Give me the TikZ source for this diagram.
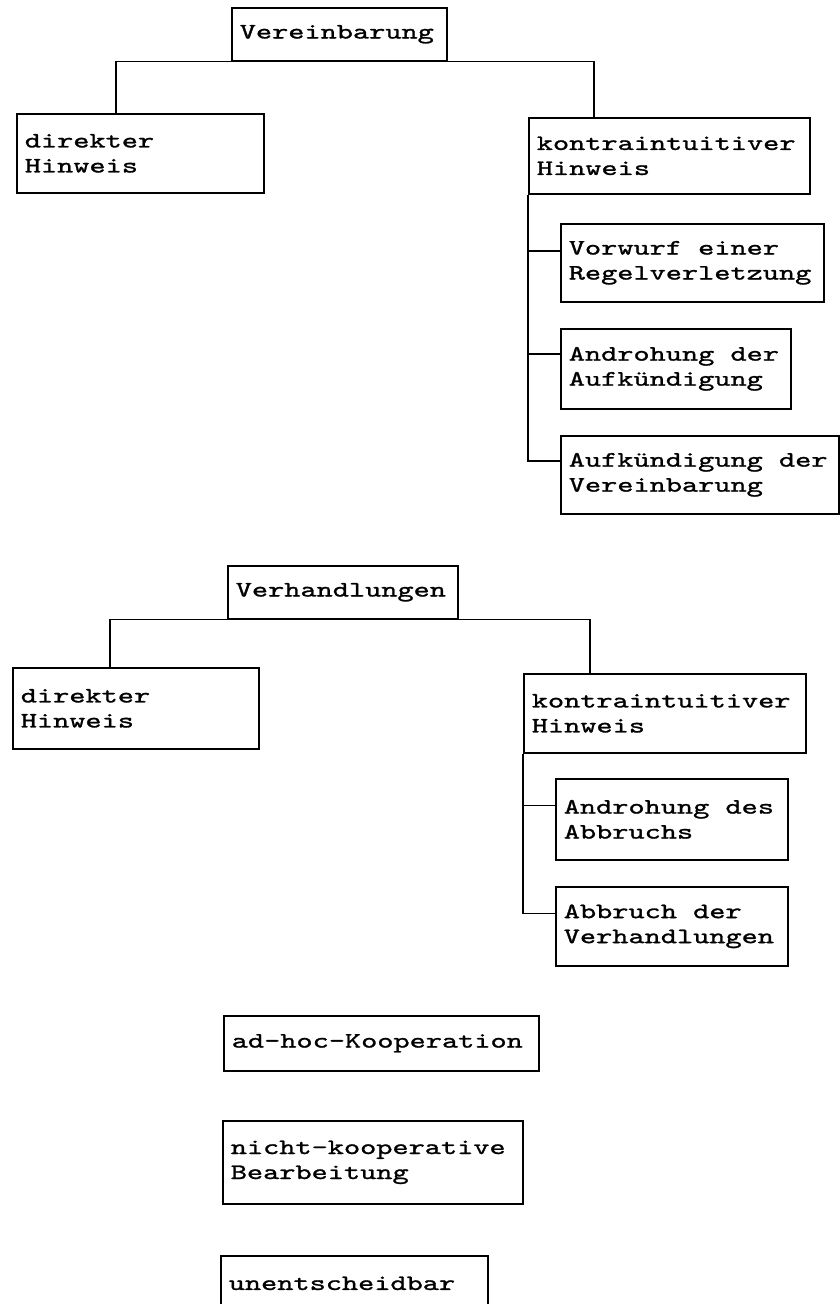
\documentclass[tikz,border=0pt]{standalone}
\usepackage{fontspec}
\newfontfamily\cour[FakeStretch=1.40,FakeBold=1.2]{lmmono10-regular.otf}
\newcommand\boxfont{\cour\fontsize{22}{25}\selectfont}
\tikzset{
  box/.style={draw, line width=1.6pt, anchor=north west, inner xsep=8pt, inner ysep=0pt,
    align=left, font=\boxfont, execute at begin node={\spaceskip=16.17pt\relax\xspaceskip=16.17pt\relax}},
  conn/.style={line width=1.6pt}
}
\begin{document}
\begin{tikzpicture}[x=1pt,y=-1pt]
\useasboundingbox (0,0) rectangle (840,1304);
% tree 1
\node[box, minimum width=215pt, minimum height=53pt, text width=199pt] (ver) at (231,7) {Vereinbarung};
\node[box, minimum width=247pt, minimum height=79pt, text width=231pt] (d1) at (16,113) {direkter\\Hinweis};
\node[box, minimum width=281pt, minimum height=76pt, text width=265pt] (k1) at (528,117) {kontraintuitiver\\Hinweis};
\node[box, minimum width=263pt, minimum height=78pt, text width=247pt] (v1) at (560,223) {Vorwurf einer\\Regelverletzung};
\node[box, minimum width=230pt, minimum height=80pt, text width=214pt] (a1) at (560,328) {Androhung der\\Aufkündigung};
\node[box, minimum width=278pt, minimum height=78pt, text width=262pt] (f1) at (560,435) {Aufkündigung der\\Vereinbarung};
\draw[conn] ([xshift=100pt]d1.north west) |- (ver.south west);
\draw[conn] ([xshift=66pt]k1.north west) |- (ver.south east);
\draw[conn] (k1.south west) |- ([yshift=12pt]v1.west);
\draw[conn] (k1.south west) |- ([yshift=15pt]a1.west);
\draw[conn] (k1.south west) |- ([yshift=14pt]f1.west);
% tree 2
\node[box, minimum width=230pt, minimum height=53pt, text width=214pt] (verh) at (227,565) {Verhandlungen};
\node[box, minimum width=246pt, minimum height=81pt, text width=230pt] (d2) at (12,667) {direkter\\Hinweis};
\node[box, minimum width=282pt, minimum height=79pt, text width=266pt] (k2) at (523,673) {kontraintuitiver\\Hinweis};
\node[box, minimum width=232pt, minimum height=81pt, text width=216pt] (ad) at (555,778) {Androhung des\\Abbruchs};
\node[box, minimum width=232pt, minimum height=79pt, text width=216pt] (ab) at (555,886) {Abbruch der\\Verhandlungen};
\draw[conn] ([xshift=98pt]d2.north west) |- (verh.south west);
\draw[conn] ([xshift=67pt]k2.north west) |- (verh.south east);
\draw[conn] (k2.south west) |- ([yshift=14pt]ad.west);
\draw[conn] (k2.south west) |- ([yshift=13pt]ab.west);
% single boxes
\node[box, minimum width=315pt, minimum height=55pt, text width=299pt] (adhoc) at (223,1015) {ad-hoc-Kooperation};
\node[box, minimum width=300pt, minimum height=83pt, text width=284pt] (nk) at (222,1120) {nicht-kooperative\\Bearbeitung};
\node[box, minimum width=267pt, minimum height=55pt, text width=251pt] (un) at (220,1255) {unentscheidbar};
\end{tikzpicture}
\end{document}
